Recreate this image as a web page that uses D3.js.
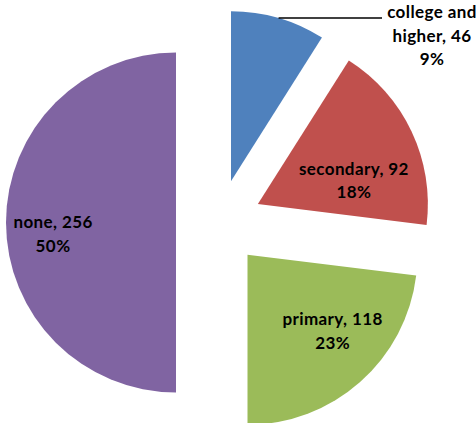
<!DOCTYPE html>
<html>
<head>
<meta charset="utf-8">
<script src="https://cdn.jsdelivr.net/npm/d3@7"></script>
<style>
  html, body { margin: 0; padding: 0; background: #fff; }
  svg { display: block; }
  text { font-family: Lato, "Open Sans", "Liberation Sans", sans-serif; font-weight: 700; fill: #000; letter-spacing: 0.4px; }
</style>
</head>
<body>
<svg id="chart" width="476" height="423"></svg>
<script>
// Education level of respondents
const categories = ["college and higher", "secondary", "primary", "none"];
const counts = [46, 92, 118, 256];
const colors = ["#4F81BD", "#C0504D", "#9BBB59", "#8064A2"];

// Layout
const width = 476, height = 423;
const cx = 219, cy = 222.5;
const radius = 170;
const explode = 43;
const fontSize = 17;
const lineGap = 23.5;
// Inside-label spot for each slice: [angle in degrees clockwise from 12 o'clock, distance from slice tip]
// null means the label sits outside with a leader line.
const labelSpots = [null, [79.7, 97.6], [134.1, 118.5], [261.9, 124.2]];
const outsideLabel = { x: 432, firstBaseline: 18, wrapWidth: 96, leaderEnd: 382 };

const total = d3.sum(counts);
const pct = v => Math.round(v / total * 100) + "%";

const svg = d3.select("#chart");
const g = svg.append("g").attr("transform", `translate(${cx},${cy})`);

const pie = d3.pie().sort(null).value(d => d)(counts);
const arc = d3.arc().innerRadius(0).outerRadius(radius);

// offset of each exploded slice tip from the pie centre
const tips = pie.map(p => {
  const mid = (p.startAngle + p.endAngle) / 2;
  return [explode * Math.sin(mid), -explode * Math.cos(mid)];
});

g.selectAll("path.slice")
  .data(pie)
  .join("path")
  .attr("class", "slice")
  .attr("d", arc)
  .attr("fill", (d, i) => colors[i])
  .attr("transform", (d, i) => `translate(${tips[i][0]},${tips[i][1]})`);

// labels
pie.forEach((p, i) => {
  const first = `${categories[i]}, ${counts[i]}`;
  const spot = labelSpots[i];
  if (spot) {
    const a = spot[0] * Math.PI / 180;
    const x = tips[i][0] + spot[1] * Math.sin(a);
    const y = tips[i][1] - spot[1] * Math.cos(a);
    const t = g.append("text")
      .attr("text-anchor", "middle")
      .attr("font-size", fontSize);
    t.append("tspan").attr("x", x).attr("y", y - lineGap / 2).text(first);
    t.append("tspan").attr("x", x).attr("y", y + lineGap / 2).text(pct(counts[i]));
  } else {
    // outside label, wrapped into lines
    const words = first.split(" ");
    const probe = svg.append("text").attr("font-size", fontSize);
    const lines = [];
    let cur = [];
    words.forEach(w => {
      const trial = cur.concat(w).join(" ");
      probe.text(trial);
      if (cur.length && probe.node().getComputedTextLength() > outsideLabel.wrapWidth) {
        lines.push(cur.join(" "));
        cur = [w];
      } else {
        cur.push(w);
      }
    });
    lines.push(cur.join(" "));
    probe.remove();
    lines.push(pct(counts[i]));

    const t = svg.append("text")
      .attr("text-anchor", "middle")
      .attr("font-size", fontSize);
    lines.forEach((s, k) => {
      t.append("tspan")
        .attr("x", outsideLabel.x)
        .attr("y", outsideLabel.firstBaseline + k * lineGap)
        .text(s);
    });

    // leader from the slice rim to the label
    const ly = outsideLabel.firstBaseline;
    const tx = cx + tips[i][0], ty = cy + tips[i][1];
    const sx = tx + Math.sqrt(radius * radius - (ty - ly) * (ty - ly));
    svg.append("line")
      .attr("x1", sx).attr("y1", ly)
      .attr("x2", outsideLabel.leaderEnd).attr("y2", ly)
      .attr("stroke", "#000")
      .attr("stroke-width", 1.5);
  }
});
</script>
</body>
</html>
